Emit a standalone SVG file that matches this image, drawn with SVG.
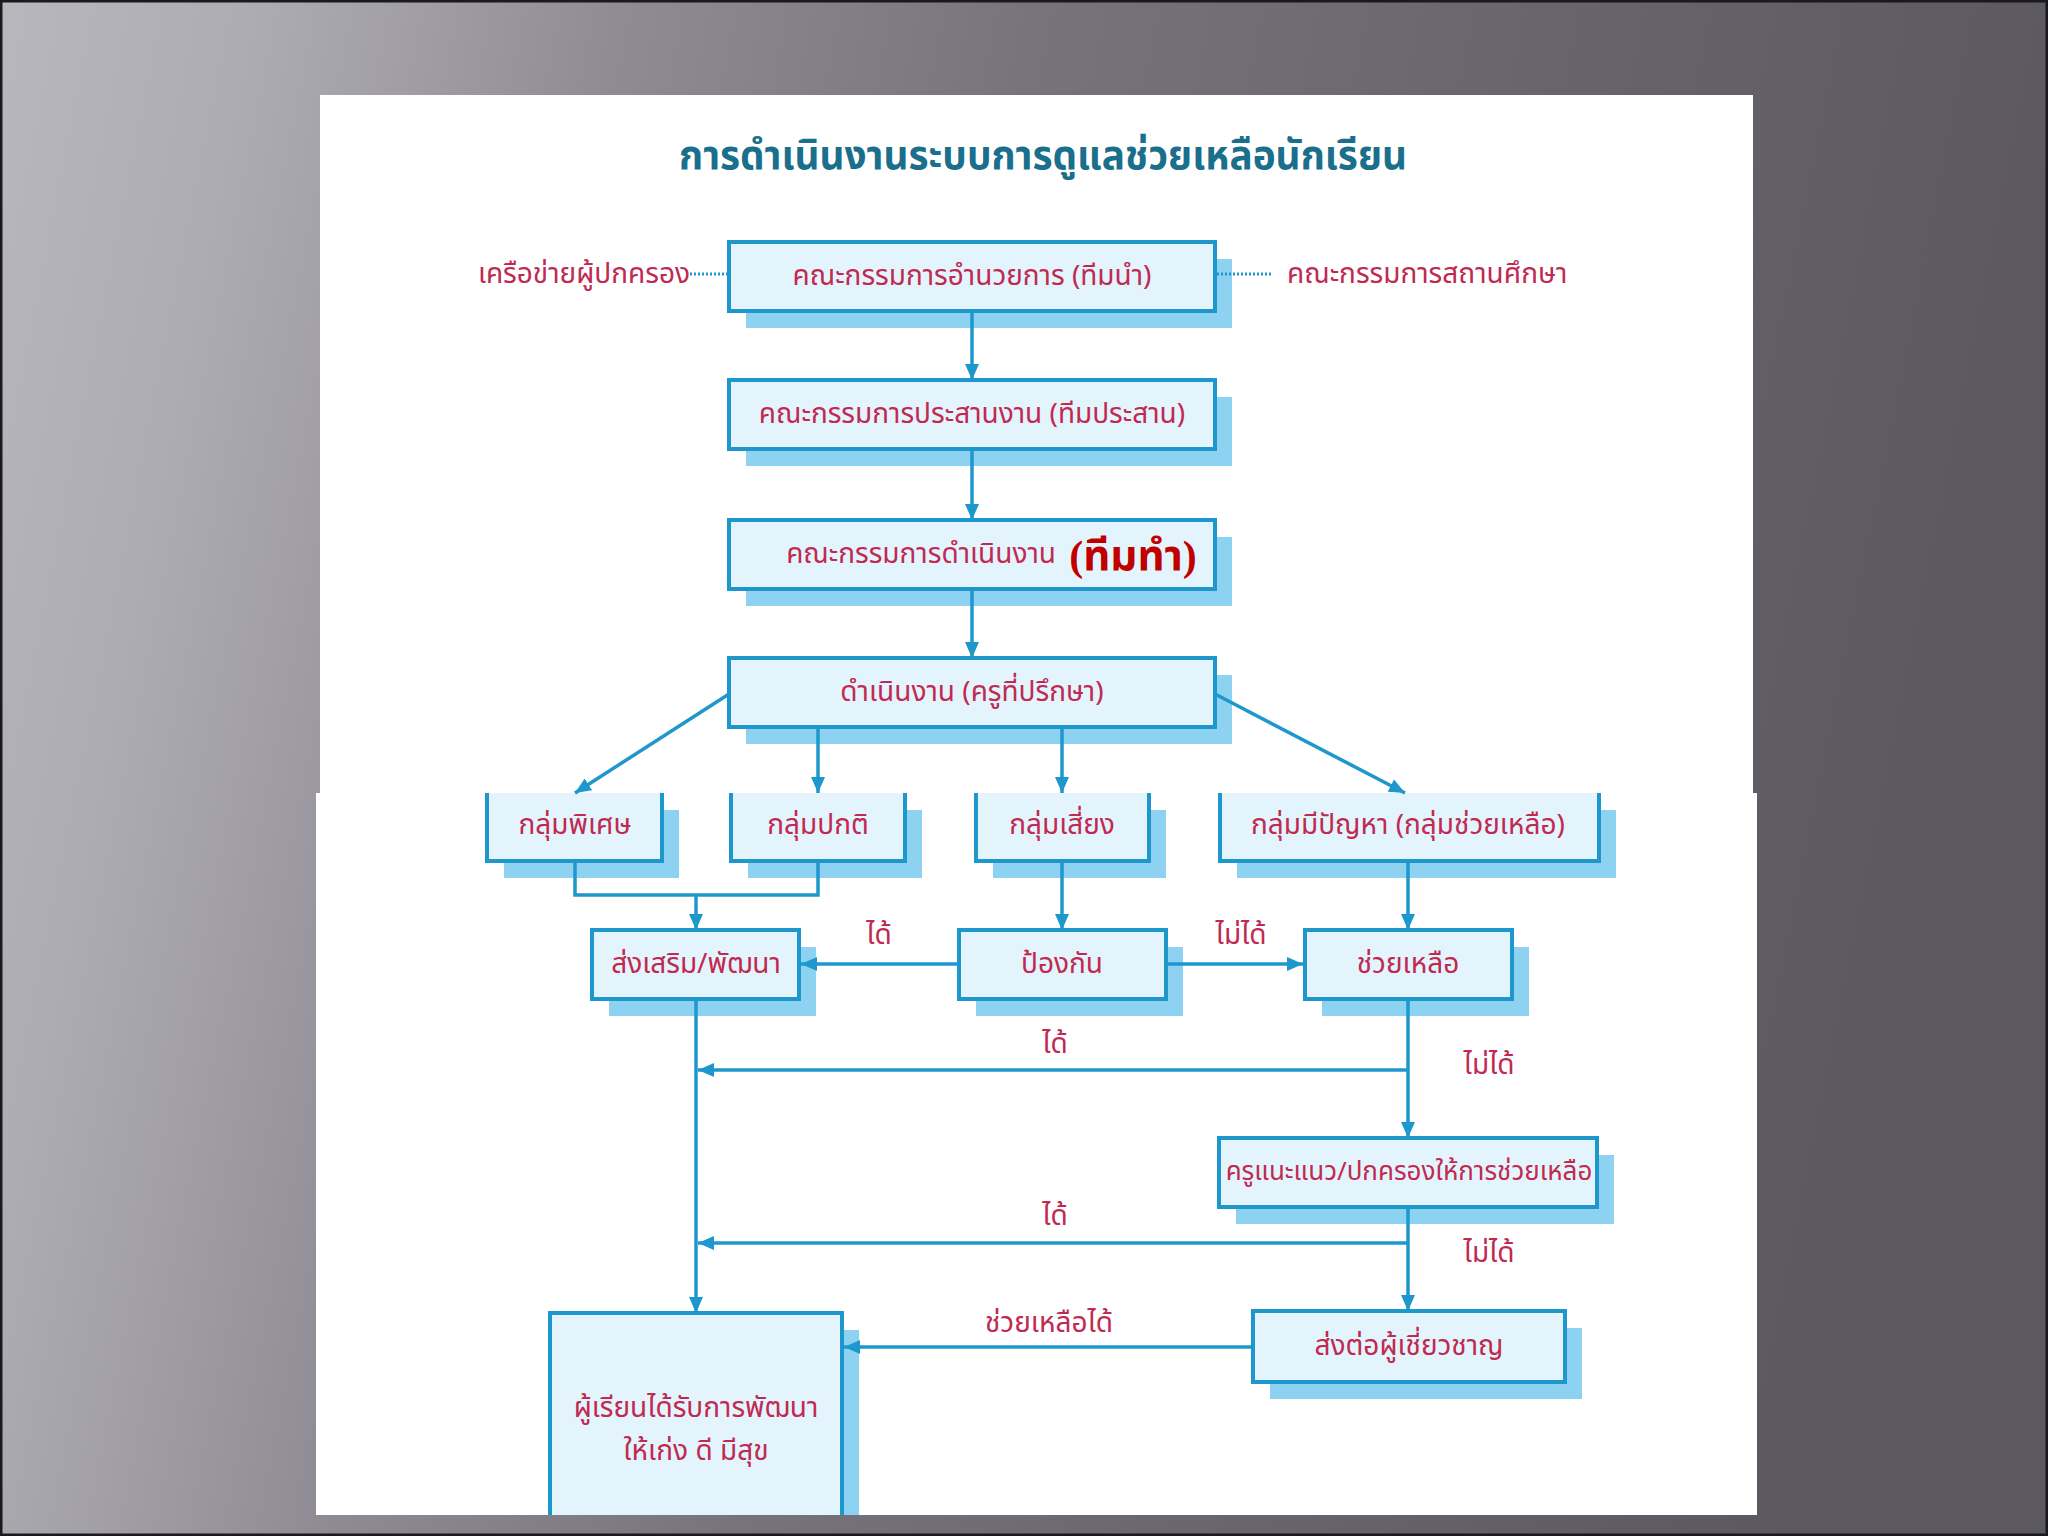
<svg xmlns="http://www.w3.org/2000/svg" width="2048" height="1536" viewBox="0 0 2048 1536">
<defs>
<linearGradient id="bg" x1="0" y1="0" x2="1" y2="0.15">
<stop offset="0" stop-color="#b9b7be"/>
<stop offset="0.12" stop-color="#aeacb3"/>
<stop offset="0.3" stop-color="#8f8b95"/>
<stop offset="0.5" stop-color="#77737c"/>
<stop offset="0.75" stop-color="#68646c"/>
<stop offset="1" stop-color="#5c5861"/>
</linearGradient>
<marker id="arr" markerWidth="18" markerHeight="14" refX="16" refY="7" orient="auto" markerUnits="userSpaceOnUse">
<path d="M0,0 L16,7 L0,14 Z" fill="#1e98cc"/>
</marker>
<style>
.bx{fill:#e4f4fc;stroke:#1e98cc;stroke-width:4}
.ob{fill:none;stroke:#1e98cc;stroke-width:4}
.bf{fill:#e4f4fc}
.sh{fill:#8dd3f1}
.t{font-family:"Noto Sans Thai","Loma","Garuda","Noto Sans","DejaVu Sans",sans-serif;font-size:28px;fill:#c02a52;text-anchor:middle;dominant-baseline:central}
.ln{fill:none;stroke:#1e98cc;stroke-width:3.5}
.ar{fill:none;stroke:#1e98cc;stroke-width:3.5;marker-end:url(#arr)}
.dot{fill:none;stroke:#1e98cc;stroke-width:3;stroke-dasharray:2 2}
</style>
</defs>
<rect x="0" y="0" width="2048" height="1536" fill="url(#bg)"/>
<rect x="1" y="1" width="2046" height="1534" fill="none" stroke="#1a1a1a" stroke-width="3"/>
<rect x="320" y="95" width="1433" height="698" fill="#ffffff"/>
<rect x="316" y="793" width="1441" height="722" fill="#ffffff"/>

<text x="1043" y="157" style="font-family:'Noto Sans Thai','Loma','Garuda','Noto Sans',sans-serif;font-size:40px;font-weight:bold;fill:#1a6f8c;text-anchor:middle;dominant-baseline:central" textLength="728" lengthAdjust="spacingAndGlyphs">การดำเนินงานระบบการดูแลช่วยเหลือนักเรียน</text>

<g id="side-left"><text class="t" x="690" y="274" style="text-anchor:end">เครือข่ายผู้ปกครอง</text></g>
<g id="side-right"><text class="t" x="1287" y="274" style="text-anchor:start">คณะกรรมการสถานศึกษา</text></g>

<g id="n1"><rect class="sh" x="746" y="259" width="486" height="69"/><rect class="bx" x="729" y="242" width="486" height="69"/><text class="t" x="972" y="276">คณะกรรมการอำนวยการ (ทีมนำ)</text></g>
<g id="n2"><rect class="sh" x="746" y="397" width="486" height="69"/><rect class="bx" x="729" y="380" width="486" height="69"/><text class="t" x="972" y="414">คณะกรรมการประสานงาน (ทีมประสาน)</text></g>
<g id="n3"><rect class="sh" x="746" y="537" width="486" height="69"/><rect class="bx" x="729" y="520" width="486" height="69"/><text class="t" x="1056" y="554" style="text-anchor:end">คณะกรรมการดำเนินงาน</text><text x="1133" y="556" style="font-family:'Liberation Serif','Noto Sans Thai','Loma',serif;font-size:42px;font-weight:bold;fill:#c00000;text-anchor:middle;dominant-baseline:central">(ทีมทำ)</text></g>
<g id="n4"><rect class="sh" x="746" y="675" width="486" height="69"/><rect class="bx" x="729" y="658" width="486" height="69"/><text class="t" x="972" y="692">ดำเนินงาน (ครูที่ปรึกษา)</text></g>

<g id="g1"><rect class="sh" x="504" y="810" width="175" height="68"/><rect class="bf" x="487" y="793" width="175" height="68"/><path class="ob" d="M487,793 V861 H662 V793"/><text class="t" x="575" y="825">กลุ่มพิเศษ</text></g>
<g id="g2"><rect class="sh" x="748" y="810" width="174" height="68"/><rect class="bf" x="731" y="793" width="174" height="68"/><path class="ob" d="M731,793 V861 H905 V793"/><text class="t" x="818" y="825">กลุ่มปกติ</text></g>
<g id="g3"><rect class="sh" x="993" y="810" width="173" height="68"/><rect class="bf" x="976" y="793" width="173" height="68"/><path class="ob" d="M976,793 V861 H1149 V793"/><text class="t" x="1062" y="825">กลุ่มเสี่ยง</text></g>
<g id="g4"><rect class="sh" x="1237" y="810" width="379" height="68"/><rect class="bf" x="1220" y="793" width="379" height="68"/><path class="ob" d="M1220,793 V861 H1599 V793"/><text class="t" x="1408" y="825">กลุ่มมีปัญหา (กลุ่มช่วยเหลือ)</text></g>

<g id="r1"><rect class="sh" x="609" y="947" width="207" height="69"/><rect class="bx" x="592" y="930" width="207" height="69"/><text class="t" x="696" y="964">ส่งเสริม/พัฒนา</text></g>
<g id="r2"><rect class="sh" x="976" y="947" width="207" height="69"/><rect class="bx" x="959" y="930" width="207" height="69"/><text class="t" x="1062" y="964">ป้องกัน</text></g>
<g id="r3"><rect class="sh" x="1322" y="947" width="207" height="69"/><rect class="bx" x="1305" y="930" width="207" height="69"/><text class="t" x="1408" y="964">ช่วยเหลือ</text></g>

<g id="n5"><rect class="sh" x="1236" y="1155" width="378" height="69"/><rect class="bx" x="1219" y="1138" width="378" height="69"/><text class="t" x="1409" y="1172" style="font-size:26px">ครูแนะแนว/ปกครองให้การช่วยเหลือ</text></g>
<g id="n6"><rect class="sh" x="1270" y="1328" width="312" height="71"/><rect class="bx" x="1253" y="1311" width="312" height="71"/><text class="t" x="1409" y="1346">ส่งต่อผู้เชี่ยวชาญ</text></g>
<g id="n7"><rect class="sh" x="567" y="1330" width="292" height="185"/><rect class="bf" x="550" y="1313" width="292" height="202"/><path class="ob" d="M550,1515 V1313 H842 V1515"/><text class="t" x="696" y="1408">ผู้เรียนได้รับการพัฒนา</text><text class="t" x="696" y="1451">ให้เก่ง  ดี  มีสุข</text></g>

<g id="connectors">
<path class="dot" d="M690,274 H727"/>
<path class="dot" d="M1217,274 H1272"/>
<path class="ar" d="M972,313 V380"/>
<path class="ar" d="M972,451 V520"/>
<path class="ar" d="M972,591 V658"/>
<path class="ar" d="M729,694 L575,793"/>
<path class="ar" d="M818,729 V793"/>
<path class="ar" d="M1062,729 V793"/>
<path class="ar" d="M1215,694 L1405,793"/>
<path class="ln" d="M575,863 V895 H818 V863"/>
<path class="ar" d="M696,895 V930"/>
<path class="ar" d="M1062,863 V930"/>
<path class="ar" d="M1408,863 V930"/>
<path class="ar" d="M959,964 H801"/>
<path class="ar" d="M1166,964 H1303"/>
<path class="ar" d="M1408,1001 V1138"/>
<path class="ar" d="M1408,1070 H698"/>
<path class="ar" d="M696,1001 V1313"/>
<path class="ar" d="M1408,1209 V1311"/>
<path class="ar" d="M1408,1243 H698"/>
<path class="ar" d="M1253,1347 H844"/>
<text class="t" x="879" y="935">ได้</text>
<text class="t" x="1241" y="935">ไม่ได้</text>
<text class="t" x="1055" y="1044">ได้</text>
<text class="t" x="1489" y="1065">ไม่ได้</text>
<text class="t" x="1055" y="1216">ได้</text>
<text class="t" x="1489" y="1253">ไม่ได้</text>
<text class="t" x="1049" y="1323">ช่วยเหลือได้</text>
</g>
</svg>
